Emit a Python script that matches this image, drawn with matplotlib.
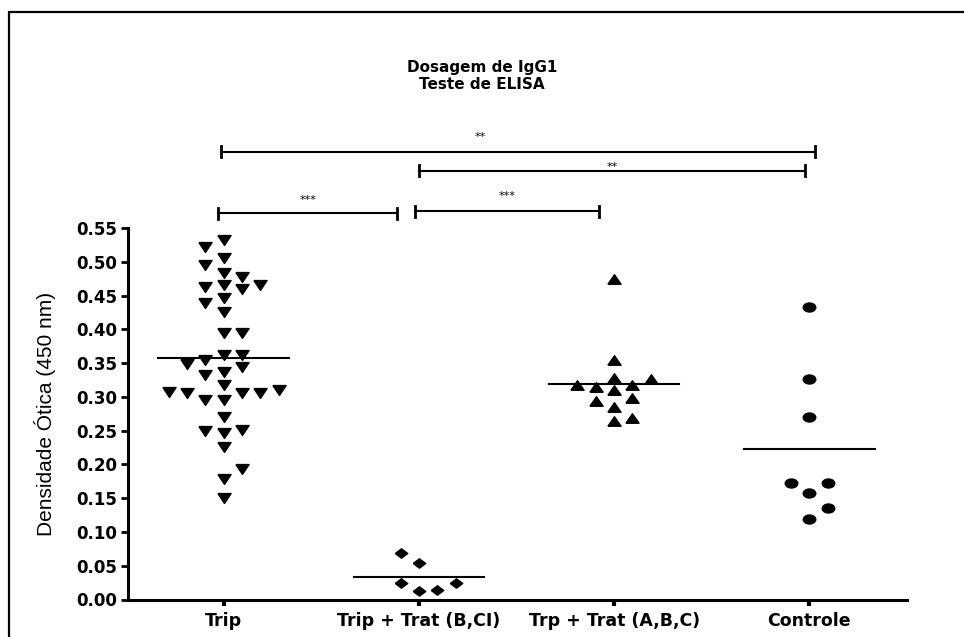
import matplotlib
matplotlib.use('Agg')
import matplotlib.pyplot as plt
from matplotlib.path import Path
from matplotlib.patches import Rectangle
import numpy as np

plt.rcParams['font.family'] = ['DejaVu Sans']

# dados
grupos = ['Trip', 'Trip + Trat (B,CI)', 'Trp + Trat (A,B,C)', 'Controle']
trip = [0.532, 0.522, 0.505, 0.495, 0.484, 0.478, 0.465, 0.463, 0.459, 0.465,
        0.446, 0.439, 0.425, 0.394, 0.394, 0.362, 0.354, 0.362, 0.344, 0.348,
        0.337, 0.332, 0.317, 0.310, 0.306, 0.305, 0.295, 0.295, 0.306, 0.307,
        0.270, 0.251, 0.249, 0.246, 0.226, 0.193, 0.178, 0.150]
trip_trat_bci = [0.069, 0.054, 0.025, 0.013, 0.014, 0.025]
trp_trat_abc = [0.474, 0.355, 0.326, 0.328, 0.315, 0.317, 0.318, 0.310,
                0.299, 0.294, 0.285, 0.264, 0.268]
controle = [0.433, 0.327, 0.270, 0.172, 0.172, 0.158, 0.135, 0.119]
valores = [trip, trip_trat_bci, trp_trat_abc, controle]

# comparacoes (grupo a, grupo b, texto)
comparacoes = [(0, 3, '**'), (1, 3, '**'), (0, 1, '***'), (1, 2, '***')]

# marcadores (achatados como no original)
tri_baixo = [(-1, 0.75), (1, 0.75), (0, -0.75), (-1, 0.75)]
tri_cima = [(-1, -0.72), (1, -0.72), (0, 0.72), (-1, -0.72)]
losango = [(-1, 0), (0, 0.75), (1, 0), (0, -0.75), (-1, 0)]
circ = Path.unit_circle()
elipse = Path(circ.vertices * [1, 0.72], circ.codes)
marcadores = [tri_baixo, losango, tri_cima, elipse]
tamanhos = [9.5, 9, 9.5, 9]


def enxame(vals, passo=0.094, dist=0.018):
    # distribui os pontos lado a lado quando ficam muito proximos
    ordem = np.argsort(vals, kind='stable')
    cols = {}
    offs = np.zeros(len(vals))
    lado = 1
    for i in ordem:
        v = vals[i]
        k = 0
        while True:
            tent = [0] if k == 0 else [k * lado, -k * lado]
            achou = None
            for c in tent:
                if all(abs(v - u) >= dist for u in cols.get(c, [])):
                    achou = c
                    break
            if achou is not None:
                break
            k += 1
        if achou != 0:
            lado = -lado
        cols.setdefault(achou, []).append(v)
        offs[i] = achou * passo
    return offs


fig = plt.figure(figsize=(9.64, 6.37), dpi=100)
ax = fig.add_axes([128 / 964, 1 - 599.5 / 637, (907 - 128) / 964, (599.5 - 228) / 637])

for i, vals in enumerate(valores):
    x = i + enxame(vals)
    ax.plot(x, vals, linestyle='none', marker=marcadores[i], markersize=tamanhos[i],
            color='black', clip_on=False)
    m = np.mean(vals)
    ax.plot([i - 0.334, i + 0.334], [m, m], color='black', lw=1.5)

ax.set_xlim(-0.49, 3.5)
ax.set_ylim(0, 0.55)
yt = np.arange(0, 0.551, 0.05)
ax.set_yticks(yt)
ax.set_yticklabels(['%.2f' % t for t in yt], fontweight='bold', fontsize=12)
ax.set_xticks(range(4))
ax.set_xticklabels(grupos, fontweight='bold', fontsize=12.5)
ax.tick_params(axis='y', length=5, width=2, pad=3)
ax.tick_params(axis='x', length=4, width=3, pad=5)
for s in ['top', 'right']:
    ax.spines[s].set_visible(False)
for s in ['left', 'bottom']:
    ax.spines[s].set_linewidth(2.2)

ax.set_ylabel('Densidade Ótica (450 nm)', fontsize=15,
              family=['Liberation Sans'], labelpad=14)

# barras de significancia
alturas = [0.663, 0.635, 0.572, 0.575]
alt_texto = [0.690, 0.646, 0.597, 0.603]
ajustes = [(-0.015, 0.03), (0.0, -0.02), (-0.03, -0.11), (-0.02, -0.08)]
desloc_texto = [-0.195, 0, 0, 0]
cap = 0.008
for (a, b, txt), h, ht, (da, db), dx in zip(comparacoes, alturas, alt_texto,
                                             ajustes, desloc_texto):
    x0, x1 = a + da, b + db
    ax.plot([x0, x1], [h, h], color='black', lw=1.5, clip_on=False)
    for xx in (x0, x1):
        ax.plot([xx, xx], [h - cap, h + cap], color='black', lw=2, clip_on=False)
    ax.text((x0 + x1) / 2 + dx, ht - 0.0055, txt, ha='center', va='center',
            fontsize=8)

fig.text(0.5, 1 - 76 / 637, 'Dosagem de IgG1\nTeste de ELISA', ha='center',
         va='center', fontweight='bold', fontsize=11, linespacing=1.1)

fig.patches.append(Rectangle((9 / 964, -0.1), 1.2, 1.1 - 12 / 637, fill=False,
                             lw=1.6, edgecolor='black', transform=fig.transFigure))

fig.savefig('out.png', dpi=100)
